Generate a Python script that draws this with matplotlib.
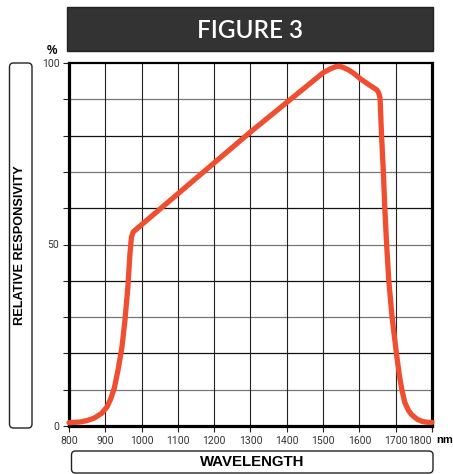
import numpy as np
import matplotlib.pyplot as plt
from matplotlib.patches import FancyBboxPatch, Rectangle

wavelength = [800, 830, 850, 870, 890, 905, 915, 925, 935, 946, 954, 962, 968, 972, 977,
              1300, 1500, 1520, 1535, 1545, 1555, 1570, 1585, 1602, 1625, 1648, 1653,
              1657, 1661, 1666, 1670, 1675, 1681, 1690, 1702, 1710, 1717, 1725, 1735,
              1745, 1760, 1775, 1790, 1800]
responsivity = [0.9, 1.1, 1.5, 2.2, 3.5, 5.3, 7.5, 10.5, 15.4, 21.8, 29, 38, 47.6, 52, 53.5,
                81, 97.3, 98.4, 99.0, 99.1, 98.8, 98.1, 97.1, 95.7, 94.1, 92.6, 91.8,
                90.3, 80, 70, 60, 50, 40, 30, 20, 14, 10, 6.5, 4.3,
                3.0, 1.8, 1.2, 1.0, 1.0]
xticks = list(range(800, 1801, 100))
yticks = list(range(0, 101, 10))
ylabels = {0: '0', 50: '50', 100: '100'}

W, H = 453, 474
fig = plt.figure(figsize=(W / 100, H / 100), dpi=100)

# overlay in pixel coordinates for the boxes and labels
bg = fig.add_axes([0, 0, 1, 1])
bg.set_xlim(0, W)
bg.set_ylim(H, 0)
bg.axis('off')

bg.add_patch(Rectangle((67, 7), 366, 44, facecolor='#333333', edgecolor='#222222', lw=1))
bg.text(250, 30, 'FIGURE 3', color='white', fontsize=17.5, family='Lato',
        fontweight='semibold', ha='center', va='center')

bg.add_patch(FancyBboxPatch((9.5, 63), 22.5, 365, boxstyle='round,pad=0,rounding_size=4',
                            facecolor='white', edgecolor='#222222', lw=1))
bg.text(20.5, 245, 'RELATIVE RESPONSIVITY', rotation=90, fontsize=9.2, fontweight='bold',
        family='Liberation Sans', ha='center', va='center')

bg.add_patch(FancyBboxPatch((71.5, 451), 361.5, 22, boxstyle='round,pad=0,rounding_size=4',
                            facecolor='white', edgecolor='#222222', lw=1))
bg.text(252, 462.5, 'WAVELENGTH', fontsize=10.8, fontweight='bold',
        family='Liberation Sans', ha='center', va='center')

bg.text(52, 51, '%', fontsize=8.5, fontweight='bold', family='Liberation Sans',
        ha='center', va='center')
bg.text(445, 440, 'nm', fontsize=8, fontweight='bold', family='Liberation Sans',
        ha='center', va='center')

# main plot
ax = fig.add_axes([69 / W, (H - 426) / H, 363 / W, 363 / H])
ax.set_xlim(800, 1800)
ax.set_ylim(0, 100)

for v in yticks[1:-1]:
    c = '#777777' if (v // 10) % 2 else '#111111'
    ax.axhline(v, color=c, lw=0.9, zorder=1)
for x in xticks[1:-1]:
    ax.axvline(x, color='#222222', lw=0.8, zorder=1)

ax.plot(wavelength, responsivity, color='#f04e30', lw=3.8, solid_capstyle='round',
        solid_joinstyle='round', zorder=3, clip_on=False)

ax.set_xticks(xticks)
ax.set_xticklabels([str(x) for x in xticks])
ax.set_yticks(yticks)
ax.set_yticklabels([ylabels.get(v, '') for v in yticks])
ax.tick_params(direction='out', length=4, width=0.8, color='#222222',
               labelsize=7.5, labelcolor='#333333', pad=3)
for t in ax.get_xticklabels() + ax.get_yticklabels():
    t.set_family('Roboto')
ax.get_xticklabels()[-1].set_horizontalalignment('right')

for side, w in [('left', 2.3), ('right', 2.3), ('bottom', 2.3), ('top', 1.6)]:
    ax.spines[side].set_linewidth(w)
    ax.spines[side].set_color('black')

fig.savefig('out.png', dpi=100)
